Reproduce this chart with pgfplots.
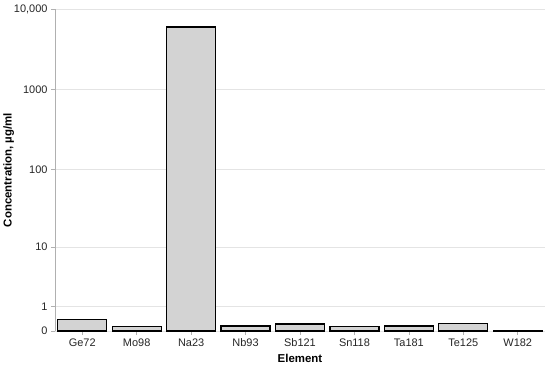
\documentclass[border=0pt]{standalone}
\usepackage{pgfplots}
\pgfplotsset{compat=1.18}
\usepackage{fontspec}
\setmainfont{Liberation Sans}
\definecolor{barFill}{HTML}{D3D3D3}
\definecolor{axGray}{HTML}{B0B0B0}
\definecolor{gridGray}{HTML}{E4E4E4}
\begin{document}
\begin{tikzpicture}
\begin{axis}[
  scale only axis,
  width=490bp, height=322bp,
  xmin=-0.5, xmax=8.5,
  ymin=0, ymax=10000,
  % symmetric log scale: y -> log10(1+y)
  y coord trafo/.code={\pgfmathparse{log10(1+#1)}},
  y coord inv trafo/.code={\pgfmathparse{10^(#1)-1}},
  ytick={0,1,10,100,1000,10000},
  yticklabels={0,1,10,100,1000,{10,000}},
  xtick={0,...,8},
  xticklabels={Ge72,Mo98,Na23,Nb93,Sb121,Sn118,Ta181,Te125,W182},
  axis x line*=bottom,
  axis y line*=left,
  axis line style={axGray, line width=0.8pt},
  x axis line style={draw=none},
  tick style={axGray, line width=0.6pt},
  tick align=outside,
  major tick length=4bp,
  ymajorgrids,
  grid style={gridGray, line width=0.8pt},
  tick label style={font=\fontsize{11}{13}\selectfont, text=black!85},
  label style={font=\fontsize{11.5}{13}\selectfont\bfseries},
  xlabel={Element},
  ylabel={Concentration, µg/ml},
  xlabel style={yshift=-1bp},
  ylabel style={yshift=-7bp},
  ybar, bar width=49bp,
]
\addplot[fill=barFill, draw=black, line width=1.3pt]
  coordinates {(0,0.40)(1,0.13)(2,6000)(3,0.15)(4,0.22)(5,0.14)(6,0.15)(7,0.23)(8,0.012)};
\end{axis}
\pgfresetboundingbox
\path (current axis.south west) ++(-55bp,-36bp) rectangle ++(550bp,367bp);
\end{tikzpicture}
\end{document}
